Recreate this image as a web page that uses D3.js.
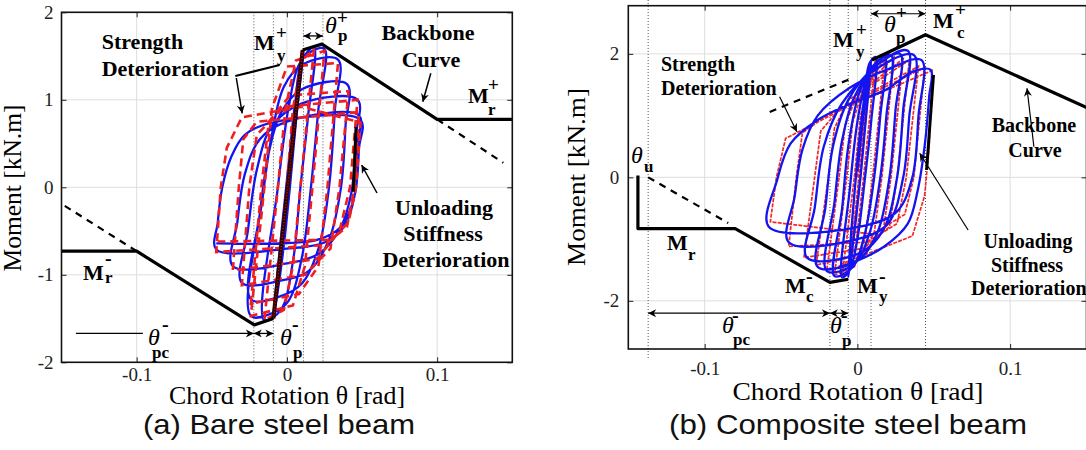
<!DOCTYPE html>
<html><head><meta charset="utf-8">
<script src="https://cdn.jsdelivr.net/npm/d3@7"></script>
<style>body{margin:0;background:#fff}svg{display:block}</style>
</head><body>
<svg id="c" width="1086" height="450"></svg>
<script>
// ---------- data ----------
const xTicks = [-0.1, 0, 0.1];
const xTickLabels = ["-0.1", "0", "0.1"];
const yTicksA = [-2, -1, 0, 1, 2];
const yTicksB = [-2, 0, 2];

// (a) bare steel beam: backbone
const bbA_neg = [[-0.15,-0.73],[-0.1,-0.73],[-0.0217,-1.573],[-0.009,-1.50]];
const bbA_pos = [[0.0105,1.57],[0.0233,1.636],[0.1,0.776],[0.15,0.776]];
const bbA_dashNeg = [[-0.1,-0.73],[-0.148,-0.21]];
const bbA_dashPos = [[0.1,0.776],[0.144,0.28]];
const elasticA = [[-0.009,-1.50],[0.0105,1.57]];
const dottedA = [-0.022, -0.009, 0.011, 0.024];

// (a) experimental (blue) and model (red) histories [theta, M]
const blueA = [[0,0],[0.005,0.9],[0.011,1.57],
 [0.006,0.75],[0.002,0],[-0.003,-0.8],[-0.009,-1.48],
 [-0.0005,0],[0.005,0.85],[0.010,1.45],[0.018,1.60],
 [0.014,0.8],[0.009,0],[0.004,-0.85],[-0.004,-1.40],[-0.015,-1.52],
 [-0.006,0],[0.001,0.9],[0.008,1.40],[0.016,1.55],[0.025,1.58],
 [0.021,0.9],[0.016,0],[0.010,-0.8],[0.001,-1.30],[-0.010,-1.44],[-0.024,-1.47],
 [-0.016,-0.1],[-0.010,0.6],[-0.002,1.15],[0.010,1.40],[0.034,1.46],
 [0.032,0.9],[0.028,0],[0.021,-0.7],[0.010,-1.10],[-0.005,-1.25],[-0.024,-1.28],
 [-0.018,-0.3],[-0.012,0.4],[-0.004,0.85],[0.010,1.12],[0.040,1.18],
 [0.039,0.7],[0.036,0],[0.028,-0.6],[0.015,-0.95],[-0.005,-1.07],[-0.030,-1.09],
 [-0.026,-0.5],[-0.020,0.2],[-0.010,0.70],[0.010,0.96],[0.047,1.00],
 [0.046,0.6],[0.043,-0.05],[0.036,-0.45],[0.022,-0.75],[0.0,-0.87],[-0.036,-0.90],
 [-0.033,-0.4],[-0.028,0.15],[-0.018,0.55],[0.0,0.75],[0.048,0.82],
 [0.047,0.5],[0.045,-0.1],[0.038,-0.45],[0.025,-0.63],[0.0,-0.70],[-0.047,-0.71],
 [-0.046,-0.4],[-0.043,0.0],[-0.037,0.35],[-0.028,0.60],[-0.010,0.74],[0.049,0.77],
 [0.048,0.45],[0.045,-0.1],[0.036,-0.45],[0.020,-0.60],[-0.047,-0.64]];
const redA = [[0,0],[0.010,1.55],
 [0.001,0],[-0.009,-1.47],
 [0.000,0],[0.004,0.9],[0.010,1.45],[0.018,1.58],
 [0.009,0],[0.004,-0.9],[-0.002,-1.40],[-0.015,-1.52],
 [-0.006,0],[-0.001,0.9],[0.006,1.45],[0.025,1.56],
 [0.017,0],[0.012,-0.9],[0.004,-1.35],[-0.024,-1.47],
 [-0.015,0],[-0.010,0.9],[0.000,1.38],[0.034,1.42],
 [0.027,0],[0.021,-0.9],[0.008,-1.22],[-0.024,-1.33],
 [-0.017,0],[-0.012,0.75],[0.002,1.05],[0.041,1.10],
 [0.035,0],[0.029,-0.7],[0.012,-1.0],[-0.030,-1.12],
 [-0.025,0],[-0.020,0.6],[-0.002,0.92],[0.047,1.0],
 [0.042,0],[0.035,-0.5],[0.020,-0.82],[-0.036,-0.95],
 [-0.032,0],[-0.029,0.55],[-0.020,0.75],[0.048,0.86],
 [0.045,0],[0.040,-0.45],[0.025,-0.66],[-0.047,-0.74],
 [-0.044,0],[-0.040,0.45],[-0.030,0.80],[0.010,0.92],[0.049,0.74],
 [0.046,0],[0.041,-0.4],[0.030,-0.60],[-0.046,-0.62]];

// (b) composite steel beam: backbone
const bbB_neg = [[-0.1437,0.03],[-0.1437,-0.83],[-0.080,-0.83],[-0.018,-1.70],[-0.006,-1.65]];
const bbB_pos = [[0.0095,1.90],[0.0446,2.31],[0.151,1.12]];
const bbB_dash = [[-0.137,0],[-0.0846,-0.74]];
const sdB_dash = [[-0.0574,1.06],[-0.005,1.59]];
const dottedB = [-0.137, -0.018, -0.006, 0.0089, 0.0446];

const blueB = [[0,0.1],[0.004,1.0],[0.009,1.90],
 [0.005,0.8],[0.002,0],[-0.003,-1.1],[-0.006,-1.62],
 [-0.001,0],[0.004,1.2],[0.008,1.85],[0.012,1.95],
 [0.009,0.9],[0.005,0],[0.000,-1.0],[-0.005,-1.50],[-0.010,-1.62],
 [-0.005,-0.2],[0.000,0.9],[0.006,1.6],[0.012,1.85],[0.018,1.95],
 [0.015,1.0],[0.011,0],[0.005,-0.9],[-0.003,-1.45],[-0.015,-1.60],
 [-0.010,-0.5],[-0.006,0.5],[0.001,1.35],[0.010,1.80],[0.022,1.98],
 [0.019,1.0],[0.015,0],[0.008,-0.9],[-0.002,-1.40],[-0.020,-1.52],
 [-0.015,-0.4],[-0.010,0.6],[-0.002,1.3],[0.012,1.80],[0.028,2.00],
 [0.025,1.1],[0.021,0],[0.013,-0.9],[0.000,-1.35],[-0.026,-1.45],
 [-0.021,-0.5],[-0.016,0.5],[-0.006,1.25],[0.012,1.80],[0.033,2.05],
 [0.030,1.1],[0.026,0],[0.017,-0.85],[0.002,-1.22],[-0.033,-1.30],
 [-0.028,-0.5],[-0.022,0.5],[-0.010,1.2],[0.012,1.75],[0.037,1.98],
 [0.034,1.0],[0.030,0],[0.020,-0.75],[0.0,-1.0],[-0.045,-1.05],
 [-0.041,-0.3],[-0.036,0.45],[-0.026,1.0],[-0.005,1.45],[0.020,1.75],[0.042,1.90],
 [0.040,1.0],[0.036,0],[0.026,-0.55],[0.005,-0.78],[-0.058,-0.80],
 [-0.0525,-0.04],[-0.0437,0.55],[-0.026,0.93],[-0.004,1.20],[0.018,1.41],[0.037,1.72],[0.048,1.74],
 [0.047,1.31],[0.044,0.50],[0.0395,-0.21],[0.033,-0.75],[0.0176,-1.12],[-0.004,-1.39],[-0.012,-1.45]];
const redB = [[0,0],[0.009,1.88],
 [0.002,0],[-0.006,-1.60],
 [0.001,0],[0.005,1.1],[0.012,1.92],
 [0.004,0],[-0.001,-1.1],[-0.010,-1.60],
 [-0.002,0],[0.002,1.0],[0.008,1.55],[0.018,1.92],
 [0.010,0],[0.005,-1.0],[-0.002,-1.45],[-0.015,-1.58],
 [-0.007,0],[-0.003,0.9],[0.004,1.45],[0.024,1.95],
 [0.016,0],[0.011,-0.9],[0.000,-1.35],[-0.020,-1.50],
 [-0.012,0],[-0.008,0.85],[0.000,1.35],[0.030,1.92],
 [0.022,0],[0.017,-0.85],[0.003,-1.25],[-0.027,-1.42],
 [-0.019,0],[-0.015,0.8],[-0.006,1.25],[0.034,1.90],
 [0.026,0],[0.021,-0.8],[0.004,-1.15],[-0.035,-1.30],
 [-0.028,0],[-0.024,0.75],[-0.012,1.10],[0.040,1.80],
 [0.032,0],[0.026,-0.75],[0.006,-1.05],[-0.045,-1.12],
 [-0.040,0],[-0.036,0.72],[-0.020,1.00],[0.044,1.78],
 [0.037,0],[0.031,-0.6],[0.010,-0.92],[-0.057,-0.72],
 [-0.053,0],[-0.047,0.63],[-0.006,1.15],[0.049,1.73],
 [0.047,0.5],[0.044,-0.3],[0.036,-0.95],[0.0,-1.30],[-0.010,-1.40]];

// ---------- drawing ----------
const svg = d3.select("#c");
const defs = svg.append("defs");
defs.append("marker").attr("id","ah").attr("viewBox","0 0 10 10").attr("refX",10).attr("refY",5)
  .attr("markerWidth",9).attr("markerHeight",8).attr("markerUnits","userSpaceOnUse").attr("orient","auto-start-reverse")
  .append("path").attr("d","M0,0 L10,5 L0,10 L3,5 Z").attr("fill","#000");

const SERIF = "'Liberation Serif','Times New Roman',serif";
const SANS = "'Liberation Sans',Arial,sans-serif";

function panel(o){
  const x = d3.scaleLinear([-0.15,0.15],[o.x0,o.x1]);
  const y = d3.scaleLinear(o.yDom,[o.y1,o.y0]);
  const g = svg.append("g");
  const cid = "clip"+o.id;
  defs.append("clipPath").attr("id",cid).append("rect")
    .attr("x",o.x0).attr("y",o.y0).attr("width",o.x1-o.x0).attr("height",o.y1-o.y0);
  g.append("g").selectAll("line").data(xTicks).join("line")
    .attr("x1",d=>x(d)).attr("x2",d=>x(d)).attr("y1",o.y0).attr("y2",o.y1)
    .attr("stroke","#dedede").attr("stroke-width",1);
  g.append("g").selectAll("line").data(o.yTicks).join("line")
    .attr("x1",o.x0).attr("x2",o.x1).attr("y1",d=>y(d)).attr("y2",d=>y(d))
    .attr("stroke","#dedede").attr("stroke-width",1);
  return {x,y,g,cid};
}

function axes(P,o){
  const {x,y,g} = P;
  const ax = g.append("g").attr("transform",`translate(0,${o.y1})`)
    .call(d3.axisBottom(x).tickValues(xTicks).tickFormat((d,i)=>xTickLabels[i]).tickSizeInner(-5).tickSizeOuter(0).tickPadding(o.xPad));
  const ay = g.append("g").attr("transform",`translate(${o.x0},0)`)
    .call(d3.axisLeft(y).tickValues(o.yTicks).tickFormat(d=>String(d)).tickSizeInner(-5).tickSizeOuter(0).tickPadding(o.yPad));
  const at = g.append("g").attr("transform",`translate(0,${o.y0})`)
    .call(d3.axisTop(x).tickValues(xTicks).tickFormat("").tickSizeInner(-5).tickSizeOuter(0));
  const ar = g.append("g").attr("transform",`translate(${o.x1},0)`)
    .call(d3.axisRight(y).tickValues(o.yTicks).tickFormat("").tickSizeInner(-5).tickSizeOuter(0));
  [ax,ay,at,ar].forEach(a=>{
    a.attr("font-family",SERIF).attr("font-size",19);
    a.select(".domain").remove();
    a.selectAll("line").attr("stroke","#222").attr("stroke-width",1);
    a.selectAll("text").attr("font-family",SERIF).attr("font-size",19).attr("fill","#222");
  });
  g.append("rect").attr("x",o.x0).attr("y",o.y0).attr("width",o.x1-o.x0).attr("height",o.y1-o.y0)
    .attr("fill","none").attr("stroke","#111").attr("stroke-width",1.6);
}

function path(P,data,attrs,curve,clip=true){
  const line = d3.line().x(d=>P.x(d[0])).y(d=>P.y(d[1])).curve(curve||d3.curveLinear);
  const p = P.g.append("path").attr("d",line(data)).attr("fill","none");
  if(clip) p.attr("clip-path",`url(#${P.cid})`);
  for(const k in attrs) p.attr(k,attrs[k]);
  return p;
}
function vdotted(P,vals,top,bottom){
  P.g.append("g").selectAll("line").data(vals).join("line")
    .attr("x1",d=>P.x(d)).attr("x2",d=>P.x(d)).attr("y1",top).attr("y2",(d,i)=>bottom[i])
    .attr("stroke","#555").attr("stroke-width",1).attr("stroke-dasharray","1,2");
}
function arrowData(P,a,b,both,w,head=true){
  P.g.append("line").attr("x1",P.x(a[0])).attr("y1",P.y(a[1])).attr("x2",P.x(b[0])).attr("y2",P.y(b[1]))
    .attr("stroke","#000").attr("stroke-width",w||1.3).attr("marker-end",head?"url(#ah)":null)
    .attr("marker-start",both?"url(#ah)":null);
}
function arrowPx(x1,y1,x2,y2,w,head=true,dash=null){
  svg.append("line").attr("x1",x1).attr("y1",y1).attr("x2",x2).attr("y2",y2)
    .attr("stroke","#000").attr("stroke-width",w).attr("marker-end",head?"url(#ah)":null)
    .attr("stroke-dasharray",dash);
}
function txt(x,y,s,size,opts={}){
  const t = svg.append("text").attr("x",x).attr("y",y).text(s)
    .attr("font-family",opts.sans?SANS:SERIF).attr("font-size",size)
    .attr("font-weight",opts.bold?"bold":"normal").attr("font-style",opts.italic?"italic":"normal")
    .attr("text-anchor",opts.anchor||"start").attr("fill",opts.fill||"#000");
  if(opts.len){t.attr("textLength",opts.len).attr("lengthAdjust","spacingAndGlyphs");}
  if(opts.rot){t.attr("transform",`rotate(-90,${x},${y})`);}
  return t;
}
function sym(main,mx,my,sup,sx,sy,sub,bx,by,theta){
  txt(mx,my,main,theta?24:22,{bold:!theta,italic:!!theta});
  if(sup) txt(sx,sy,sup,sup==="+"?19:20,{bold:true});
  if(sub) txt(bx,by,sub,17,{bold:true});
}

// ---- panel (a) ----
const oA = {id:"A",x0:61.5,x1:512.3,y0:12.3,y1:362.3,yDom:[-2,2],yTicks:yTicksA,xPad:5,yPad:8};
const PA = panel(oA);
vdotted(PA,dottedA,oA.y0,dottedA.map(()=>oA.y1));
path(PA,blueA,{stroke:"#1414f0","stroke-width":2.3,"stroke-linejoin":"round"},d3.curveCatmullRom.alpha(0.5));
path(PA,redA,{stroke:"#f01e1e","stroke-width":2.6,"stroke-dasharray":"8,5"});
path(PA,elasticA,{stroke:"#2a0000","stroke-width":4});
path(PA,elasticA,{stroke:"#d01010","stroke-width":1.4,"stroke-dasharray":"1,2"});
path(PA,bbA_neg,{stroke:"#000","stroke-width":3.2,"stroke-linejoin":"round"});
path(PA,bbA_pos,{stroke:"#000","stroke-width":3.2,"stroke-linejoin":"round"});
path(PA,bbA_dashNeg,{stroke:"#000","stroke-width":2.2,"stroke-dasharray":"7,6"});
path(PA,bbA_dashPos,{stroke:"#000","stroke-width":2.2,"stroke-dasharray":"7,6"});
axes(PA,oA);
arrowData(PA,[0.011,1.73],[0.024,1.73],true);
arrowData(PA,[-0.1404,-1.67],[-0.0958,-1.67],false,1.3,false);
arrowData(PA,[-0.0772,-1.67],[-0.022,-1.67],false);
arrowData(PA,[-0.022,-1.67],[-0.009,-1.67],true);

// ---- panel (b) ----
const oB = {id:"B",x0:628.3,x1:1086.5,y0:5.7,y1:349,yDom:[-2.78,2.78],yTicks:yTicksB,xPad:13,yPad:9};
const PB = panel(oB);
vdotted(PB,dottedB,0,[358,349,349,349,349]);
path(PB,redB,{stroke:"#f02828","stroke-width":1.7,"stroke-dasharray":"4,1.2"});
path(PB,blueB,{stroke:"#1414f0","stroke-width":2.3,"stroke-linejoin":"round"},d3.curveCatmullRom.alpha(0.5));
path(PB,bbB_neg,{stroke:"#000","stroke-width":3.2,"stroke-linejoin":"round"});
path(PB,bbB_pos,{stroke:"#000","stroke-width":3.2,"stroke-linejoin":"round"});
path(PB,bbB_dash,{stroke:"#000","stroke-width":2.2,"stroke-dasharray":"7,6"});
path(PB,sdB_dash,{stroke:"#000","stroke-width":2.2,"stroke-dasharray":"7,6"});
axes(PB,oB);
arrowData(PB,[0.0089,2.65],[0.0446,2.65],true,1.2);
arrowData(PB,[-0.137,-2.2],[-0.018,-2.2],true,1.2);
arrowData(PB,[-0.018,-2.2],[-0.006,-2.2],true,1.2);

// ---- annotation arrows / lines (a) ----
arrowPx(235.3,76,279.6,65,2,false);
arrowPx(236.3,78,242.2,113.3,1.5);
arrowPx(430.8,73.3,422.8,101.7,1.5);
arrowPx(356,127,353.3,191.7,3,false);
arrowPx(377,193,361.6,165,1.5);
// ---- annotation arrows / lines (b) ----
arrowPx(779.6,96.7,796.9,131.7,1.2);
arrowPx(1033.9,146.7,1027,88.3,1.2);
arrowPx(933.5,75,926.6,170,3,false);
arrowPx(968.1,230,919.7,153.3,1.2);

// ---- labels (a) ----
txt(101.7,49,"Strength",22,{bold:true});
txt(101.7,76,"Deterioration",22,{bold:true});
txt(428,40,"Backbone",22,{bold:true,anchor:"middle"});
txt(431,66.7,"Curve",22,{bold:true,anchor:"middle"});
txt(444,215,"Unloading",22,{bold:true,anchor:"middle"});
txt(443,240.7,"Stiffness",22,{bold:true,anchor:"middle"});
txt(446,266.7,"Deterioration",22,{bold:true,anchor:"middle"});
sym("M",254,50,"+",276,39,"y",277,61);
sym("θ",325,33,"+",337,24,"p",338,41,true);
sym("M",468,103,"+",488,91,"r",488,115);
sym("M",83,280,"-",105,265,"r",105,283);
sym("θ",148,345,"-",162,331,"pc",152,358,true);
sym("θ",280,345,"-",292,331,"p",293,358,true);
txt(21,188,"Moment [kN.m]",25,{anchor:"middle",rot:true,len:167});
txt(287,404,"Chord Rotation  θ [rad]",25,{anchor:"middle",len:236});
txt(279,434,"(a) Bare steel beam",28,{anchor:"middle",sans:true,len:272,fill:"#111"});

// ---- labels (b) ----
txt(661,71,"Strength",20,{bold:true});
txt(661,95,"Deterioration",20,{bold:true});
txt(1034,132,"Backbone",20,{bold:true,anchor:"middle"});
txt(1035,157,"Curve",20,{bold:true,anchor:"middle"});
txt(1028,248,"Unloading",20,{bold:true,anchor:"middle"});
txt(1027,272,"Stiffness",20,{bold:true,anchor:"middle"});
txt(971,295,"Deterioration",20,{bold:true});
sym("θ",631,163,null,0,0,"u",644,172,true);
sym("M",833,47,"+",856,36,"y",856,57);
sym("M",933,28,"+",955,16,"c",957,38);
sym("θ",884,32,"+",896,19,"p",896,43,true);
sym("M",667,250,null,0,0,"r",688,260);
sym("M",785,293,"-",806,283,"c",806,302);
sym("M",857,293,"-",879,283,"y",879,302);
sym("θ",722,333,"-",732,322,"pc",733,345,true);
sym("θ",830,333,"-",841,322,"p",842,346,true);
txt(585,177,"Moment [kN.m]",25,{anchor:"middle",rot:true,len:178});
txt(858,400,"Chord Rotation θ [rad]",25,{anchor:"middle",len:251});
txt(848,434,"(b) Composite steel beam",28,{anchor:"middle",sans:true,len:358,fill:"#111"});
</script>
</body></html>
